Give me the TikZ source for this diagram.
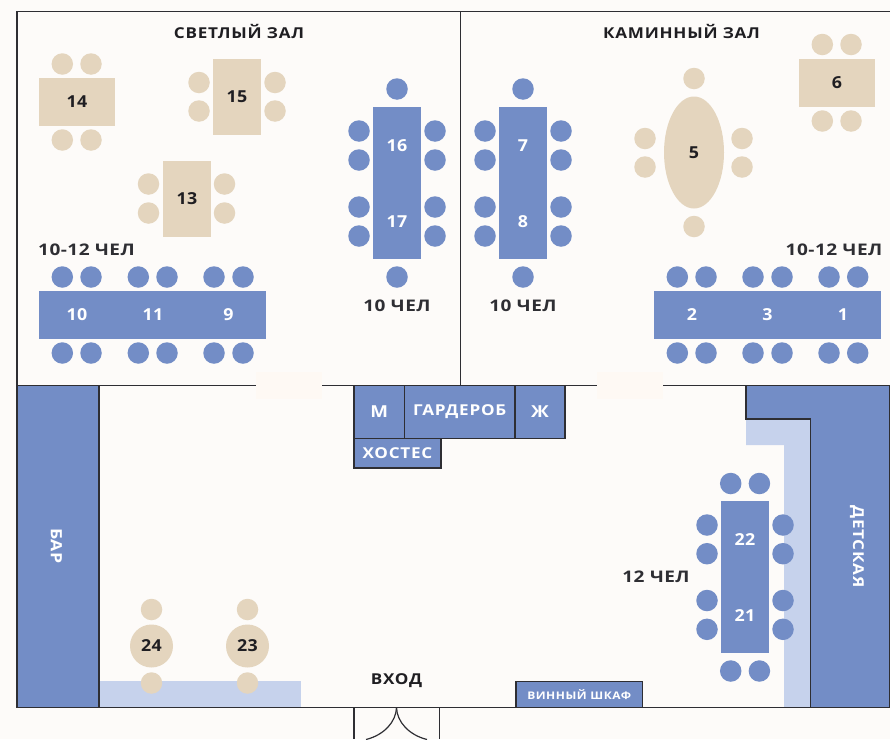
\documentclass[tikz,border=0pt]{standalone}
\usepackage{fontspec}
\setmainfont{Open Sans}[BoldFont={* Bold}]
\newfontfamily\lblfont{Open Sans}[BoldFont={* Bold},BoldFeatures={FakeStretch=1.14},LetterSpace=5]
\newfontfamily\capfont{Open Sans}[BoldFont={* Bold},BoldFeatures={FakeStretch=1.19},LetterSpace=3]
\newfontfamily\numfont{Open Sans}[BoldFont={* Bold},BoldFeatures={FakeStretch=1.08},LetterSpace=2]
\usetikzlibrary{shapes.geometric}
\definecolor{bg}{HTML}{FDFBF9}
\definecolor{blue}{HTML}{738DC6}
\definecolor{lblue}{HTML}{C6D2EC}
\definecolor{tan}{HTML}{E4D5BE}
\definecolor{ink}{HTML}{1F1E22}
\definecolor{wall}{HTML}{2E2E33}
\definecolor{patch}{HTML}{FEF9F4}
\tikzset{
  x=1pt,y=-1pt,
  wallline/.style={draw=wall,line width=1.5pt},
  bluebox/.style={fill=blue,wallline,inner sep=0pt,outer sep=0pt,text=white,font=\lblfont\bfseries\fontsize{15}{15}\selectfont},
  numstyle/.style={font=\numfont\bfseries\fontsize{16.5}{17}\selectfont},
  tantable/.style={fill=tan,inner sep=0pt,outer sep=0pt,text=ink,numstyle},
  chairB/.style={circle,fill=blue,minimum size=21.5pt,inner sep=0pt},
  chairT/.style={circle,fill=tan,minimum size=21.5pt,inner sep=0pt},
  caption/.style={inner sep=0pt,text=ink,font=\lblfont\bfseries\fontsize{15}{15}\selectfont},
  capacity/.style={inner sep=0pt,text=wall,font=\capfont\bfseries\fontsize{16}{16}\selectfont},
}
\begin{document}
\begin{tikzpicture}
\useasboundingbox (0,0) rectangle (890,739);
\fill[bg] (0,0) rectangle (890,739);
% light strips
\fill[lblue] (99,681) rectangle (301,707);
\fill[lblue] (746,419) -- (811,419) -- (811,707) -- (784,707) -- (784,445) -- (746,445) -- cycle;
% walls
\draw[wallline] (890,11.5) -- (17,11.5) -- (17,707.5) -- (890,707.5);
\draw[wallline] (17,385.3) -- (890,385.3);
\draw[wallline] (460.3,11.5) -- (460.3,385.3);
% door
\draw[wall,line width=1.3pt] (354,707.5) -- (354,739) (439.5,707.5) -- (439.5,739);
\draw[wall,line width=1.2pt] (396.5,707.5) .. controls (396,722) and (384,735) .. (366,739.5);
\draw[wall,line width=1.2pt] (396.5,707.5) .. controls (397,722) and (409,735) .. (427,739.5);
% door gaps
\fill[patch] (256,372) rectangle (322,399);
\fill[patch] (597,372) rectangle (663,399);
% blue rooms
\fill[blue,draw=wall,line width=1.5pt] (746,385.3) -- (746,419) -- (810.7,419) -- (810.7,707.5) -- (890,707.5) -- (890,385.3) -- cycle;
\node[bluebox,minimum width=82pt,minimum height=322.2pt,anchor=north west] (bar) at (17,385.3) {};
\node[rotate=-90,inner sep=0pt,text=white,font=\lblfont\bfseries\fontsize{15.5}{15}\selectfont] (barlabel) at (56.5,546) {БАР};
\node[rotate=-90,inner sep=0pt,text=white,font=\lblfont\bfseries\fontsize{15}{15}\selectfont] (kids) at (857,546.5) {ДЕТСКАЯ};
\node[bluebox,minimum width=50.5pt,minimum height=53pt,anchor=north west,font=\lblfont\bfseries\fontsize{16.5}{16}\selectfont] (m) at (354,385.3) {М};
\node[bluebox,minimum width=110.5pt,minimum height=53pt,anchor=north west] (wardrobe) at (404.5,385.3) {ГАРДЕРОБ};
\node[bluebox,minimum width=50pt,minimum height=53pt,anchor=north west,font=\lblfont\bfseries\fontsize{16.5}{16}\selectfont] (w) at (515,385.3) {Ж};
\node[bluebox,minimum width=87pt,minimum height=29.5pt,anchor=north west] (host) at (354,438.3) {ХОСТЕС};
\node[bluebox,minimum width=126.5pt,minimum height=26pt,anchor=north west,font=\lblfont\bfseries\fontsize{10.5}{11}\selectfont] (wine) at (516,681.5) {ВИННЫЙ ШКАФ};
% tan tables
\node[tantable,minimum width=76pt,minimum height=48pt] (t14) at (77,102) {14};
\node[tantable,minimum width=48pt,minimum height=76pt] (t15) at (237,97) {15};
\node[tantable,minimum width=48pt,minimum height=76pt] (t13) at (187,199) {13};
\node[tantable,minimum width=76pt,minimum height=48pt] (t6) at (837,83) {6};
\node[tantable,ellipse,minimum width=60pt,minimum height=112pt] (t5) at (694,152.5) {5};
\node[tantable,circle,minimum size=43pt] (t24) at (151.5,646) {24};
\node[tantable,circle,minimum size=43pt] (t23) at (247.5,646) {23};
\foreach \p [count=\i] in {(62.3,64),(91,64),(62.3,140),(91,140),
  (199,82.5),(199,111),(275,82.5),(275,111),
  (148.5,184),(148.5,213),(224.5,184),(224.5,213),
  (822.3,44.5),(851,44.5),(822.3,121),(851,121),
  (694,78.5),(694,226.5),(645,138.5),(645,167),(742,138.5),(742,167),
  (151.5,609.5),(151.5,683),(247.5,609.5),(247.5,683)}
  \node[chairT] (ct\i) at \p {};
% blue tables
\fill[blue] (373,107) rectangle (421,259);
\fill[blue] (499,107) rectangle (547,259);
\fill[blue] (39,291) rectangle (266,339);
\fill[blue] (654,291) rectangle (881,339);
\fill[blue] (721,501) rectangle (769,653);
\foreach \n/\x/\y/\t in {t16/397/146/16,t17/397/221.5/17,t7/523/146/7,t8/523/221.5/8,
  t10/77/315/10,t11/153/315/11,t9/228.5/315/9,t2/692/315/2,t3/767.5/315/3,t1/843/315/1,
  t22/745/540/22,t21/745/615.5/21}
  \node[inner sep=0pt,text=white,numstyle] (\n) at (\x,\y) {\t};
\foreach \p [count=\i] in {(397,89),(397,277),(359,131),(359,160),(359,207),(359,236),(435,131),(435,160),(435,207),(435,236),
  (523,89),(523,277),(485,131),(485,160),(485,207),(485,236),(561,131),(561,160),(561,207),(561,236),
  (62.3,277),(91,277),(138.3,277),(167,277),(214,277),(243,277),(62.3,353),(91,353),(138.3,353),(167,353),(214,353),(243,353),
  (677.3,277),(706,277),(753,277),(782,277),(829,277),(857.7,277),(677.3,353),(706,353),(753,353),(782,353),(829,353),(857.7,353),
  (730.7,483.5),(759.4,483.5),(730.7,671),(759.4,671),(707,525),(707,553.7),(707,600.5),(707,629.3),(783,525),(783,553.7),(783,600.5),(783,629.3)}
  \node[chairB] (cb\i) at \p {};
% captions
\node[caption] (light) at (239,31) {СВЕТЛЫЙ ЗАЛ};
\node[caption] (fire) at (681.5,31.5) {КАМИННЫЙ ЗАЛ};
\node[capacity] (ca) at (86.5,249.5) {10-12 ЧЕЛ};
\node[capacity] (cb) at (834,249.5) {10-12 ЧЕЛ};
\node[capacity] (cc) at (397,305.5) {10 ЧЕЛ};
\node[capacity] (cd) at (523,305.5) {10 ЧЕЛ};
\node[capacity] (ce) at (656,576.5) {12 ЧЕЛ};
\node[caption] (entry) at (396.5,680.5) {ВХОД};
\end{tikzpicture}
\end{document}
